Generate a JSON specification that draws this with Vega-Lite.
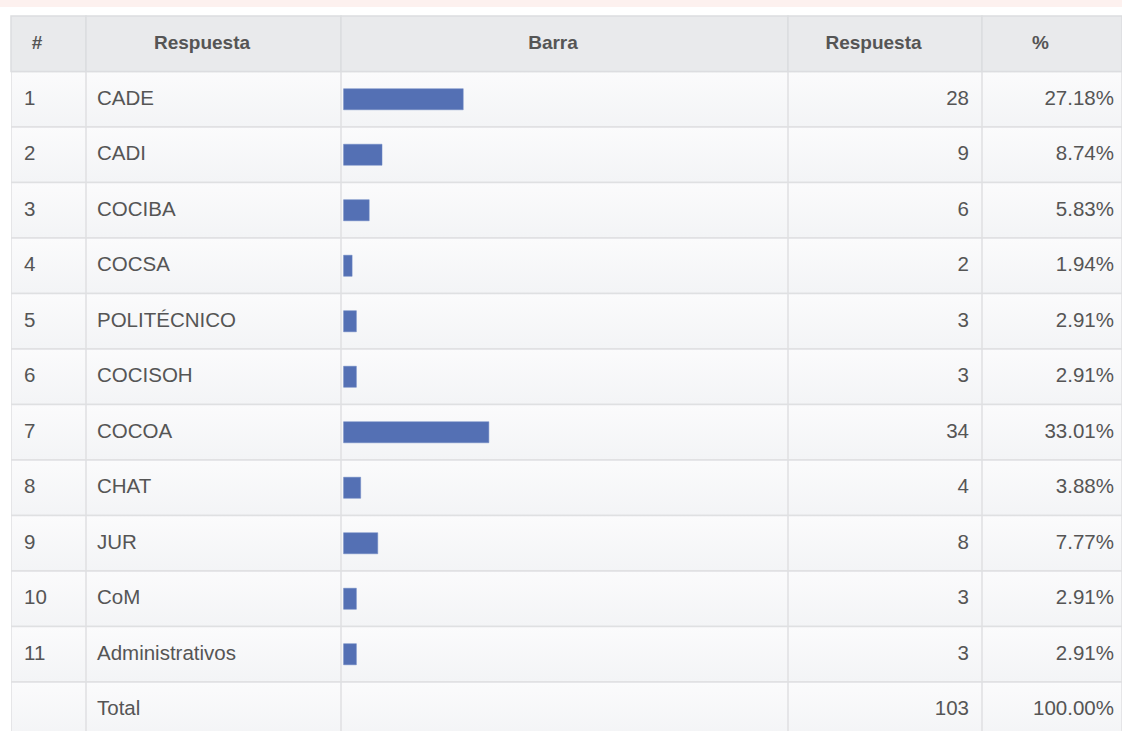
{
  "$schema": "https://vega.github.io/schema/vega-lite/v6.json",
  "padding": 0,
  "autosize": {"type": "pad"},
  "background": "#ffffff",
  "config": {"view": {"stroke": null}, "concat": {"spacing": 0}},
  "datasets": {
    "rows": [
      {"key": "1", "n": "1", "resp": "CADE", "count": 28, "pct": "27.18%"},
      {"key": "2", "n": "2", "resp": "CADI", "count": 9, "pct": "8.74%"},
      {"key": "3", "n": "3", "resp": "COCIBA", "count": 6, "pct": "5.83%"},
      {"key": "4", "n": "4", "resp": "COCSA", "count": 2, "pct": "1.94%"},
      {"key": "5", "n": "5", "resp": "POLITÉCNICO", "count": 3, "pct": "2.91%"},
      {"key": "6", "n": "6", "resp": "COCISOH", "count": 3, "pct": "2.91%"},
      {"key": "7", "n": "7", "resp": "COCOA", "count": 34, "pct": "33.01%"},
      {"key": "8", "n": "8", "resp": "CHAT", "count": 4, "pct": "3.88%"},
      {"key": "9", "n": "9", "resp": "JUR", "count": 8, "pct": "7.77%"},
      {"key": "10", "n": "10", "resp": "CoM", "count": 3, "pct": "2.91%"},
      {"key": "11", "n": "11", "resp": "Administrativos", "count": 3, "pct": "2.91%"},
      {"key": "T", "n": "", "resp": "Total", "count": 103, "pct": "100.00%"}
    ],
    "header": [
      {"key": "h", "c1": "#", "c2": "Respuesta", "c3": "Barra", "c4": "Respuesta", "c5": "%"}
    ],
    "one": [{"band": "top"}]
  },
  "bounds": "flush",
  "spacing": 9,
  "vconcat": [
    {
      "width": 1122,
      "height": 7,
      "data": {"name": "one"},
      "mark": {"type": "rect", "fill": "#fdf1ef"},
      "encoding": {"x": {"value": 0}, "x2": {"value": "width"}, "y": {"value": 0}, "y2": {"value": "height"}}
    },
    {
      "bounds": "flush",
      "spacing": 0,
      "hconcat": [
        {
          "width": 11,
          "height": 715,
          "data": {"name": "one"},
          "mark": {"type": "text", "text": ""},
          "encoding": {}
        },
        {
          "width": 75,
          "height": 715,
          "layer": [
            {"data": {"name": "rows"}, "mark": {"type": "rect", "clip": true, "fill": {"gradient": "linear", "x1": 0, "y1": 0, "x2": 0, "y2": 1, "stops": [{"offset": 0, "color": "#fbfbfc"}, {"offset": 1, "color": "#f3f4f6"}]}, "stroke": "#dfe0e2", "strokeWidth": 1.5},
             "encoding": {"y": {"field": "key", "type": "ordinal", "scale": {"domain": ["h","1","2","3","4","5","6","7","8","9","10","11","T"], "range": [0, 721.5], "paddingInner": 0, "paddingOuter": 0}, "axis": null}, "x": {"value": 0}, "x2": {"value": "width"}}},
            {"data": {"name": "header"}, "mark": {"type": "rect", "fill": "#e9eaec", "stroke": "#dcdde0", "strokeWidth": 1.5},
             "encoding": {"y": {"field": "key", "type": "ordinal", "axis": null}, "x": {"value": 0}, "x2": {"value": "width"}}},
            {"data": {"name": "header"}, "mark": {"type": "text", "font": "Liberation Sans", "fontSize": 19, "fontWeight": "bold", "fill": "#555555", "align": "center", "dx": -11.5, "dy": -1},
             "encoding": {"y": {"field": "key", "type": "ordinal", "axis": null}, "x": {"datum": 0.5, "type": "quantitative", "scale": {"domain": [0, 1]}, "axis": null}, "text": {"field": "c1"}}},
            {"data": {"name": "rows"}, "mark": {"type": "text", "font": "Liberation Sans", "fontSize": 20.5, "fill": "#555555", "align": "left", "dx": 13, "dy": -0.3},
             "encoding": {"y": {"field": "key", "type": "ordinal", "axis": null}, "x": {"datum": 0, "type": "quantitative", "scale": {"domain": [0, 1]}, "axis": null}, "text": {"field": "n"}}}
          ]
        },
        {
          "width": 255,
          "height": 715,
          "layer": [
            {"data": {"name": "rows"}, "mark": {"type": "rect", "clip": true, "fill": {"gradient": "linear", "x1": 0, "y1": 0, "x2": 0, "y2": 1, "stops": [{"offset": 0, "color": "#fbfbfc"}, {"offset": 1, "color": "#f3f4f6"}]}, "stroke": "#dfe0e2", "strokeWidth": 1.5},
             "encoding": {"y": {"field": "key", "type": "ordinal", "scale": {"domain": ["h","1","2","3","4","5","6","7","8","9","10","11","T"], "range": [0, 721.5], "paddingInner": 0, "paddingOuter": 0}, "axis": null}, "x": {"value": 0}, "x2": {"value": "width"}}},
            {"data": {"name": "header"}, "mark": {"type": "rect", "fill": "#e9eaec", "stroke": "#dcdde0", "strokeWidth": 1.5},
             "encoding": {"y": {"field": "key", "type": "ordinal", "axis": null}, "x": {"value": 0}, "x2": {"value": "width"}}},
            {"data": {"name": "header"}, "mark": {"type": "text", "font": "Liberation Sans", "fontSize": 19, "fontWeight": "bold", "fill": "#555555", "align": "center", "dx": -11.5, "dy": -1},
             "encoding": {"y": {"field": "key", "type": "ordinal", "axis": null}, "x": {"datum": 0.5, "type": "quantitative", "scale": {"domain": [0, 1]}, "axis": null}, "text": {"field": "c2"}}},
            {"data": {"name": "rows"}, "mark": {"type": "text", "font": "Liberation Sans", "fontSize": 20.5, "fill": "#555555", "align": "left", "dx": 11, "dy": -0.3},
             "encoding": {"y": {"field": "key", "type": "ordinal", "axis": null}, "x": {"datum": 0, "type": "quantitative", "scale": {"domain": [0, 1]}, "axis": null}, "text": {"field": "resp"}}}
          ]
        },
        {
          "width": 447,
          "height": 715,
          "resolve": {"scale": {"x": "independent"}},
          "layer": [
            {"data": {"name": "rows"}, "mark": {"type": "rect", "clip": true, "fill": {"gradient": "linear", "x1": 0, "y1": 0, "x2": 0, "y2": 1, "stops": [{"offset": 0, "color": "#fbfbfc"}, {"offset": 1, "color": "#f3f4f6"}]}, "stroke": "#dfe0e2", "strokeWidth": 1.5},
             "encoding": {"y": {"field": "key", "type": "ordinal", "scale": {"domain": ["h","1","2","3","4","5","6","7","8","9","10","11","T"], "range": [0, 721.5], "paddingInner": 0, "paddingOuter": 0}, "axis": null}, "x": {"value": 0}, "x2": {"value": "width"}}},
            {"data": {"name": "header"}, "mark": {"type": "rect", "fill": "#e9eaec", "stroke": "#dcdde0", "strokeWidth": 1.5},
             "encoding": {"y": {"field": "key", "type": "ordinal", "axis": null}, "x": {"value": 0}, "x2": {"value": "width"}}},
            {"data": {"name": "header"}, "mark": {"type": "text", "font": "Liberation Sans", "fontSize": 19, "fontWeight": "bold", "fill": "#555555", "align": "center", "dx": -11.5, "dy": -1},
             "encoding": {"y": {"field": "key", "type": "ordinal", "axis": null}, "x": {"datum": 0.5, "type": "quantitative", "scale": {"domain": [0, 1]}, "axis": null}, "text": {"field": "c3"}}},
            {"data": {"name": "rows"}, "transform": [{"filter": "datum.key !== 'T'"}], "mark": {"type": "bar", "fill": "#5470b4", "height": {"band": 0.38}, "stroke": "#6f88c4", "strokeWidth": 0.5},
             "encoding": {"y": {"field": "key", "type": "ordinal", "axis": null}, "x": {"field": "count", "type": "quantitative", "scale": {"domain": [-0.6, 104], "zero": false, "nice": false}, "axis": null}, "x2": {"datum": 0}}}
          ]
        },
        {
          "width": 194,
          "height": 715,
          "layer": [
            {"data": {"name": "rows"}, "mark": {"type": "rect", "clip": true, "fill": {"gradient": "linear", "x1": 0, "y1": 0, "x2": 0, "y2": 1, "stops": [{"offset": 0, "color": "#fbfbfc"}, {"offset": 1, "color": "#f3f4f6"}]}, "stroke": "#dfe0e2", "strokeWidth": 1.5},
             "encoding": {"y": {"field": "key", "type": "ordinal", "scale": {"domain": ["h","1","2","3","4","5","6","7","8","9","10","11","T"], "range": [0, 721.5], "paddingInner": 0, "paddingOuter": 0}, "axis": null}, "x": {"value": 0}, "x2": {"value": "width"}}},
            {"data": {"name": "header"}, "mark": {"type": "rect", "fill": "#e9eaec", "stroke": "#dcdde0", "strokeWidth": 1.5},
             "encoding": {"y": {"field": "key", "type": "ordinal", "axis": null}, "x": {"value": 0}, "x2": {"value": "width"}}},
            {"data": {"name": "header"}, "mark": {"type": "text", "font": "Liberation Sans", "fontSize": 19, "fontWeight": "bold", "fill": "#555555", "align": "center", "dx": -11.5, "dy": -1},
             "encoding": {"y": {"field": "key", "type": "ordinal", "axis": null}, "x": {"datum": 0.5, "type": "quantitative", "scale": {"domain": [0, 1]}, "axis": null}, "text": {"field": "c4"}}},
            {"data": {"name": "rows"}, "mark": {"type": "text", "font": "Liberation Sans", "fontSize": 20.5, "fill": "#555555", "align": "right", "dx": -13, "dy": -0.3},
             "encoding": {"y": {"field": "key", "type": "ordinal", "axis": null}, "x": {"datum": 1, "type": "quantitative", "scale": {"domain": [0, 1]}, "axis": null}, "text": {"field": "count"}}}
          ]
        },
        {
          "width": 140,
          "height": 715,
          "layer": [
            {"data": {"name": "rows"}, "mark": {"type": "rect", "clip": true, "fill": {"gradient": "linear", "x1": 0, "y1": 0, "x2": 0, "y2": 1, "stops": [{"offset": 0, "color": "#fbfbfc"}, {"offset": 1, "color": "#f3f4f6"}]}, "stroke": "#dfe0e2", "strokeWidth": 1.5},
             "encoding": {"y": {"field": "key", "type": "ordinal", "scale": {"domain": ["h","1","2","3","4","5","6","7","8","9","10","11","T"], "range": [0, 721.5], "paddingInner": 0, "paddingOuter": 0}, "axis": null}, "x": {"value": 0}, "x2": {"value": "width"}}},
            {"data": {"name": "header"}, "mark": {"type": "rect", "fill": "#e9eaec", "stroke": "#dcdde0", "strokeWidth": 1.5},
             "encoding": {"y": {"field": "key", "type": "ordinal", "axis": null}, "x": {"value": 0}, "x2": {"value": "width"}}},
            {"data": {"name": "header"}, "mark": {"type": "text", "font": "Liberation Sans", "fontSize": 19, "fontWeight": "bold", "fill": "#555555", "align": "center", "dx": -11.5, "dy": -1},
             "encoding": {"y": {"field": "key", "type": "ordinal", "axis": null}, "x": {"datum": 0.5, "type": "quantitative", "scale": {"domain": [0, 1]}, "axis": null}, "text": {"field": "c5"}}},
            {"data": {"name": "rows"}, "mark": {"type": "text", "font": "Liberation Sans", "fontSize": 20.5, "fill": "#555555", "align": "right", "dx": -8, "dy": -0.3},
             "encoding": {"y": {"field": "key", "type": "ordinal", "axis": null}, "x": {"datum": 1, "type": "quantitative", "scale": {"domain": [0, 1]}, "axis": null}, "text": {"field": "pct"}}}
          ]
        }
      ]
    }
  ]
}
